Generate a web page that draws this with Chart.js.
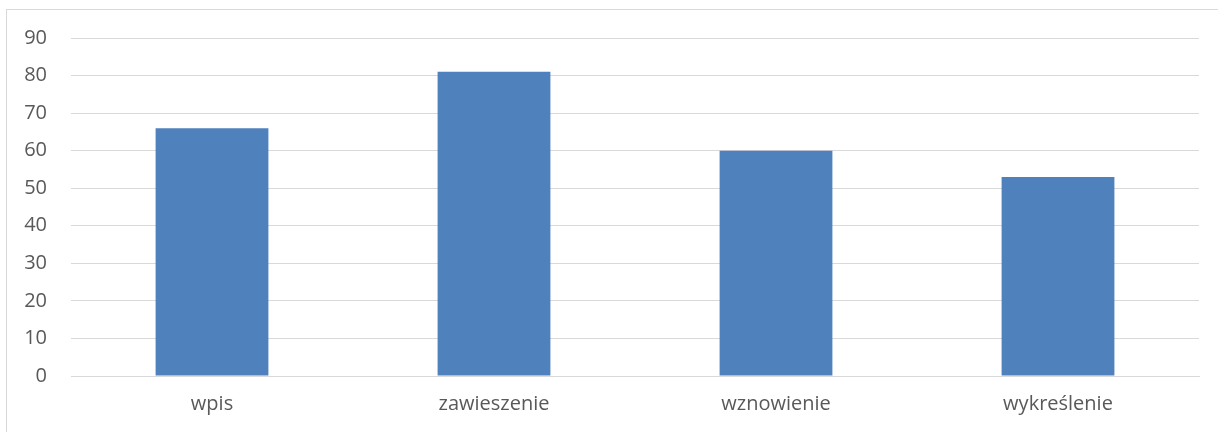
<!DOCTYPE html>
<html>
<head>
<meta charset="utf-8">
<script src="https://cdn.jsdelivr.net/npm/chart.js@4/dist/chart.umd.min.js"></script>
<style>
  html, body { margin: 0; padding: 0; background: #fff; }
  #wrap { position: relative; width: 1218px; height: 432px; overflow: hidden; }
  #frame { position: absolute; left: 6px; top: 9px; width: 1230px; height: 440px; border: 1px solid #d9d9d9; box-sizing: border-box; }
  #chart { position: absolute; left: 0; top: 0; }
</style>
</head>
<body>
<div id="wrap">
  <div id="frame"></div>
  <canvas id="chart" width="1218" height="432"></canvas>
</div>
<script>
// categories and values
const categories = ['wpis', 'zawieszenie', 'wznowienie', 'wykreślenie'];
const values = [66, 81, 60, 53];
const yTicks = [0, 10, 20, 30, 40, 50, 60, 70, 80, 90];

const data = {
    labels: categories,
    datasets: [{
        data: values,
        backgroundColor: '#4f81bd',
        borderWidth: 0,
        barPercentage: 0.4,
        categoryPercentage: 1.0
    }]
};

const config = {
    type: 'bar',
    data: data,
    options: {
        responsive: false,
        animation: false,
        layout: { padding: { top: 38, right: 19, left: 0, bottom: 0 } },
        plugins: { legend: { display: false }, tooltip: { enabled: false } },
        scales: {
            x: {
                grid: { display: false, drawTicks: false },
                border: { display: true, color: '#d9d9d9', width: 1 },
                ticks: { color: '#595959', font: { family: 'Open Sans', size: 20 }, padding: 16 },
                afterFit: function(scale) { scale.height = 56; }
            },
            y: {
                min: 0,
                max: 90,
                afterBuildTicks: function(scale) {
                    scale.ticks = yTicks.map(v => ({ value: v }));
                },
                grid: { color: '#d9d9d9', lineWidth: 1, drawTicks: false },
                border: { display: false },
                ticks: { color: '#595959', font: { family: 'Open Sans', size: 20 }, padding: 24 },
                afterFit: function(scale) { scale.width = 71; }
            }
        }
    }
};

const mainChart = new Chart(document.getElementById('chart'), config);
</script>
</body>
</html>
